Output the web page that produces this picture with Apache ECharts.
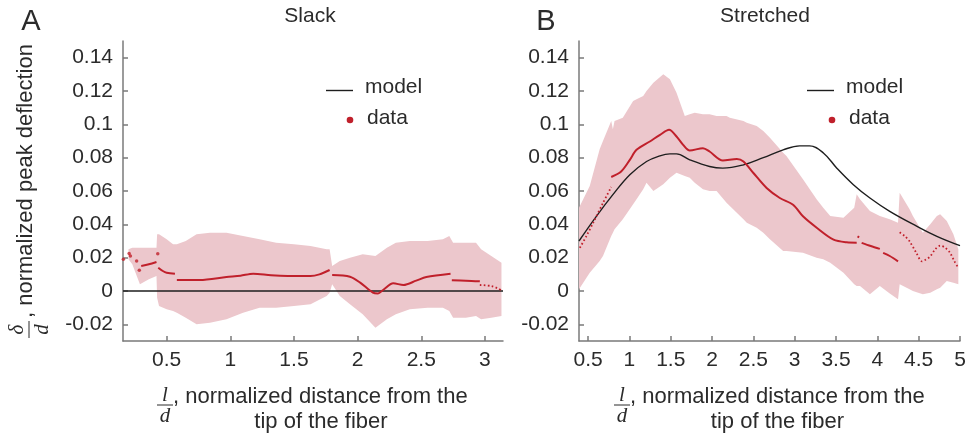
<!DOCTYPE html>
<html>
<head>
<meta charset="utf-8">
<style>
  html, body { margin: 0; padding: 0; background: #fff; }
  #chart { width: 972px; height: 441px; }
</style>
</head>
<body>
<div id="chart"></div>
<script src="https://cdn.jsdelivr.net/npm/echarts@6/dist/echarts.min.js"></script>
<script>
// ---------- data ----------
// ticks
const yTicks = [-0.02, 0, 0.02, 0.04, 0.06, 0.08, 0.1, 0.12, 0.14]
const xTicksA = [0.5, 1, 1.5, 2, 2.5, 3]
const xTicksB = [0.5, 1, 1.5, 2, 2.5, 3, 3.5, 4, 4.5, 5]

// A: slack
const slackBandX = [0.20, 0.23, 0.29, 0.36, 0.42, 0.425, 0.44, 0.50, 0.55, 0.58, 0.65, 0.735, 0.84, 0.97, 1.10, 1.23, 1.36, 1.50, 1.63, 1.757, 1.78, 1.80, 1.86, 1.94, 2.04, 2.14, 2.23, 2.30, 2.41, 2.55, 2.67, 2.72, 2.75, 2.85, 2.93, 2.97, 3.05, 3.13]
const slackBandUpper = [0.025, 0.026, 0.026, 0.026, 0.026, 0.034, 0.034, 0.031, 0.028, 0.028, 0.030, 0.034, 0.035, 0.035, 0.033, 0.031, 0.029, 0.028, 0.027, 0.025, 0.025, 0.015, 0.018, 0.020, 0.022, 0.021, 0.026, 0.029, 0.030, 0.030, 0.031, 0.033, 0.029, 0.029, 0.029, 0.025, 0.021, 0.017]
const slackBandLower = [0.019, 0.016, 0.004, 0.007, 0.009, -0.004, -0.009, -0.011, -0.012, -0.013, -0.016, -0.020, -0.019, -0.017, -0.013, -0.010, -0.010, -0.009, -0.008, -0.003, -0.001, 0.004, -0.003, -0.008, -0.014, -0.022, -0.017, -0.014, -0.011, -0.010, -0.010, -0.012, -0.016, -0.016, -0.015, -0.017, -0.016, -0.015]
const slackModel = [[0.157, 0], [3.142, 0]]
const slackDots = [[0.16, 0.019], [0.205, 0.0225], [0.215, 0.021], [0.264, 0.018], [0.285, 0.0124], [0.43, 0.0224]]
const slackSolid = [
  [[0.30, 0.015], [0.36, 0.016], [0.42, 0.0174]],
  [[0.434, 0.014], [0.47, 0.012], [0.50, 0.011], [0.565, 0.0104]],
  [[0.58, 0.0066], [0.76, 0.0066], [0.97, 0.0084], [1.08, 0.0092], [1.18, 0.0104], [1.32, 0.0094], [1.45, 0.0090], [1.63, 0.0090], [1.70, 0.0100], [1.78, 0.0126]],
  [[1.80, 0.0096], [1.94, 0.0086], [2.02, 0.005], [2.12, -0.001], [2.16, -0.0015], [2.20, 0.0006], [2.28, 0.0046], [2.36, 0.0036], [2.46, 0.0062], [2.54, 0.0084], [2.73, 0.0104]],
  [[2.74, 0.0064], [2.85, 0.0062], [2.96, 0.0058]]
]
const slackDotted = [
  [[2.96, 0.0036], [3.05, 0.0030], [3.10, 0.0016], [3.13, 0.0004]]
]

// B: stretched
const stretchBandX = [0.39, 0.52, 0.64, 0.68, 0.78, 0.80, 0.82, 0.92, 1.045, 1.086, 1.167, 1.207, 1.29, 1.41, 1.49, 1.57, 1.67, 1.73, 1.79, 1.89, 1.97, 2.055, 2.175, 2.215, 2.38, 2.42, 2.54, 2.62, 2.70, 2.86, 2.90, 3.10, 3.265, 3.345, 3.43, 3.59, 3.72, 3.75, 3.79, 3.91, 4.03, 4.15, 4.25, 4.27, 4.39, 4.43, 4.55, 4.64, 4.72, 4.76, 4.84, 4.92, 4.98]
const stretchBandUpper = [0.050, 0.063, 0.085, 0.090, 0.102, 0.097, 0.102, 0.104, 0.114, 0.115, 0.117, 0.120, 0.125, 0.130, 0.127, 0.119, 0.105, 0.106, 0.107, 0.106, 0.106, 0.105, 0.105, 0.104, 0.102, 0.101, 0.099, 0.096, 0.092, 0.083, 0.081, 0.067, 0.055, 0.050, 0.045, 0.044, 0.050, 0.058, 0.055, 0.048, 0.045, 0.043, 0.041, 0.059, 0.049, 0.045, 0.035, 0.040, 0.045, 0.046, 0.042, 0.034, 0.025]
const stretchBandLower = [0.001, 0.011, 0.018, 0.021, 0.033, 0.035, 0.037, 0.043, 0.052, 0.055, 0.061, 0.065, 0.060, 0.064, 0.068, 0.071, 0.069, 0.068, 0.065, 0.061, 0.060, 0.060, 0.053, 0.051, 0.043, 0.041, 0.038, 0.035, 0.031, 0.024, 0.024, 0.023, 0.020, 0.019, 0.017, 0.011, 0.004, 0.003, 0.003, -0.002, 0.003, -0.0015, -0.005, 0.004, 0.001, 0.000, -0.002, -0.001, 0.001, 0.002, 0.006, 0.005, 0.004]
const stretchModel = [[0.39, 0.0300], [0.60, 0.0448], [0.80, 0.0578], [1.005, 0.0698], [1.207, 0.0777], [1.35, 0.0808], [1.49, 0.0823], [1.57, 0.0823], [1.73, 0.0787], [1.97, 0.0747], [2.13, 0.0737], [2.38, 0.0757], [2.62, 0.0800], [2.86, 0.0847], [3.06, 0.0871], [3.18, 0.0871], [3.35, 0.0827], [3.51, 0.0737], [3.71, 0.0638], [3.91, 0.0558], [4.15, 0.0478], [4.48, 0.0388], [4.72, 0.0328], [5.0, 0.0272]]
const stretchSolid = [
  [[0.78, 0.0684], [0.90, 0.0717], [1.005, 0.0787], [1.086, 0.0847], [1.247, 0.0897], [1.37, 0.0937], [1.48, 0.0967], [1.57, 0.0927], [1.65, 0.0877], [1.73, 0.0843], [1.89, 0.0857], [1.97, 0.0837], [2.13, 0.0783], [2.30, 0.0792], [2.38, 0.0777], [2.50, 0.0708], [2.66, 0.0618], [2.82, 0.0558], [2.98, 0.0518], [3.10, 0.0448], [3.27, 0.0378], [3.47, 0.0308], [3.63, 0.0292], [3.75, 0.0290]],
  [[3.76, 0.0328], [3.78, 0.0322]],
  [[3.81, 0.0289], [3.92, 0.0270], [4.03, 0.0253]],
  [[4.07, 0.0229], [4.15, 0.0210], [4.25, 0.0178]]
]
const stretchDotted = [
  [[0.40, 0.0259], [0.48, 0.0330], [0.56, 0.0408], [0.68, 0.0528], [0.78, 0.0624]],
  [[4.27, 0.0352], [4.33, 0.0330], [4.39, 0.0298], [4.47, 0.0230], [4.54, 0.0178], [4.59, 0.0190], [4.64, 0.0208], [4.70, 0.0250], [4.76, 0.0272], [4.82, 0.0260], [4.88, 0.0229], [4.93, 0.0180], [4.98, 0.0139]]
]

// ---------- styles ----------
const FONT = '"Liberation Sans", Arial, sans-serif'
const SERIF = '"Liberation Serif", "Times New Roman", serif'
const TXT = '#2b2b2b'
const AX = '#7a7a7a'
const BAND = '#ecc7cc'
const RED = '#c0202b'
const MODEL = '#1e1e1e'

const myChart = echarts.init(document.getElementById('chart'))

function xAxisCfg(idx, min, max, ticks) {
  return {
    type: 'value', gridIndex: idx, min: min, max: max,
    axisLine: { onZero: false, lineStyle: { color: AX, width: 1.5 } },
    axisTick: { inside: true, length: 5, customValues: ticks, lineStyle: { color: AX, width: 1.5 } },
    axisLabel: { customValues: ticks, formatter: v => String(+v.toFixed(2)), fontSize: 21, color: TXT, fontFamily: FONT, margin: 9 },
    splitLine: { show: false }
  }
}
function yAxisCfg(idx) {
  return {
    type: 'value', gridIndex: idx, min: -0.03, max: 0.15,
    axisLine: { show: true, onZero: false, lineStyle: { color: AX, width: 1.5 } },
    axisTick: { show: true, inside: true, length: 5, customValues: yTicks, lineStyle: { color: AX, width: 1.5 } },
    axisLabel: { customValues: yTicks, formatter: v => String(+v.toFixed(2)), fontSize: 21, color: TXT, fontFamily: FONT, margin: 10 },
    splitLine: { show: false }
  }
}

// shaded band: one polygon, upper edge left->right then lower edge right->left
function band(idx, xs, up, lo) {
  return {
    type: 'custom', xAxisIndex: idx, yAxisIndex: idx, silent: true, z: 1,
    data: [[xs[0], up[0]]],
    renderItem: function (params, api) {
      const pts = []
      xs.forEach((x, i) => pts.push(api.coord([x, up[i]])))
      for (let i = xs.length - 1; i >= 0; i--) pts.push(api.coord([xs[i], lo[i]]))
      return { type: 'polygon', shape: { points: pts }, style: { fill: BAND } }
    }
  }
}
function lines(idx, segs, dotted) {
  return segs.map(seg => ({
    type: 'line', xAxisIndex: idx, yAxisIndex: idx, symbol: 'none', smooth: 0.3, z: 4,
    lineStyle: dotted ? { color: RED, width: 1.8, type: [1.6, 2.4] } : { color: RED, width: 2 },
    data: seg
  }))
}

const series = [].concat(
  [band(0, slackBandX, slackBandUpper, slackBandLower),
   band(1, stretchBandX, stretchBandUpper, stretchBandLower)],
  [{ type: 'line', xAxisIndex: 0, yAxisIndex: 0, symbol: 'none', z: 3, lineStyle: { color: MODEL, width: 1.4 }, data: slackModel },
   { type: 'line', xAxisIndex: 1, yAxisIndex: 1, symbol: 'none', smooth: 0.4, z: 3, lineStyle: { color: MODEL, width: 1.4 }, data: stretchModel },
   { type: 'scatter', xAxisIndex: 0, yAxisIndex: 0, symbolSize: 3.5, z: 4, itemStyle: { color: RED }, data: slackDots }],
  lines(0, slackSolid, false),
  lines(0, slackDotted, true),
  lines(1, stretchSolid, false),
  lines(1, stretchDotted, true)
)

function txt(x, y, text, size, align, extra) {
  return Object.assign({
    type: 'text', x: x, y: y, silent: true,
    style: { text: text, font: size + 'px ' + FONT, fill: TXT, align: align, verticalAlign: 'middle', textAlign: align, textVerticalAlign: 'middle' }
  }, extra || {})
}
function frac(x, y, top, bottom) {
  return [
    { type: 'line', silent: true, shape: { x1: x - 8, y1: y, x2: x + 8, y2: y }, style: { stroke: TXT, lineWidth: 1 } },
    { type: 'text', x: x, y: y - 10, silent: true, style: { text: top, font: 'italic 21px ' + SERIF, fill: TXT, align: 'center', verticalAlign: 'middle', textAlign: 'center', textVerticalAlign: 'middle' } },
    { type: 'text', x: x, y: y + 11, silent: true, style: { text: bottom, font: 'italic 21px ' + SERIF, fill: TXT, align: 'center', verticalAlign: 'middle', textAlign: 'center', textVerticalAlign: 'middle' } }
  ]
}
function legend(lx, ly, dx, dy) {
  return [
    { type: 'line', silent: true, shape: { x1: lx, y1: ly, x2: lx + 27, y2: ly }, style: { stroke: MODEL, lineWidth: 1.4 } },
    txt(lx + 39, ly - 3, 'model', 21, 'left'),
    { type: 'circle', silent: true, shape: { cx: dx, cy: dy, r: 3.3 }, style: { fill: RED } },
    txt(dx + 17, dy - 2, 'data', 21, 'left')
  ]
}

const graphic = [].concat(
  [txt(31, 22, 'A', 29, 'center'), txt(310, 16, 'Slack', 21, 'center'),
   txt(546, 22, 'B', 29, 'center'), txt(765, 16, 'Stretched', 21, 'center')],
  legend(326, 90.5, 350, 120),
  legend(807, 90.5, 832, 120),
  // y axis name (rotated)
  [{ type: 'group', x: 29, y: 338, rotation: Math.PI / 2, silent: true, children: [
    { type: 'line', shape: { x1: 0, y1: 0, x2: 17, y2: 0 }, style: { stroke: TXT, lineWidth: 1 } },
    { type: 'text', x: 8.5, y: -12, style: { text: 'δ', font: 'italic 21px ' + SERIF, fill: TXT, align: 'center', verticalAlign: 'middle', textAlign: 'center', textVerticalAlign: 'middle' } },
    { type: 'text', x: 8.5, y: 13, style: { text: 'd', font: 'italic 21px ' + SERIF, fill: TXT, align: 'center', verticalAlign: 'middle', textAlign: 'center', textVerticalAlign: 'middle' } },
    { type: 'text', x: 20, y: -3, style: { text: ', normalized peak deflection', font: '22px ' + FONT, fill: TXT, align: 'left', verticalAlign: 'middle', textAlign: 'left', textVerticalAlign: 'middle' } }
  ] }],
  // x axis names
  frac(165, 405, 'l', 'd'),
  [txt(173, 396.5, ', normalized distance from the', 22, 'left'), txt(321, 422, 'tip of the fiber', 22, 'center')],
  frac(622, 405, 'l', 'd'),
  [txt(630, 396.5, ', normalized distance from the', 22, 'left'), txt(777.5, 422, 'tip of the fiber', 22, 'center')]
)

const option = {
  animation: false,
  backgroundColor: '#fff',
  textStyle: { fontFamily: FONT },
  grid: [
    { left: 123, top: 41, width: 380, height: 300 },
    { left: 579, top: 41, width: 381, height: 300 }
  ],
  xAxis: [xAxisCfg(0, 0.157, 3.142, xTicksA), xAxisCfg(1, 0.39, 5, xTicksB)],
  yAxis: [yAxisCfg(0), yAxisCfg(1)],
  series: series,
  graphic: graphic
}
myChart.setOption(option)
</script>
</body>
</html>
